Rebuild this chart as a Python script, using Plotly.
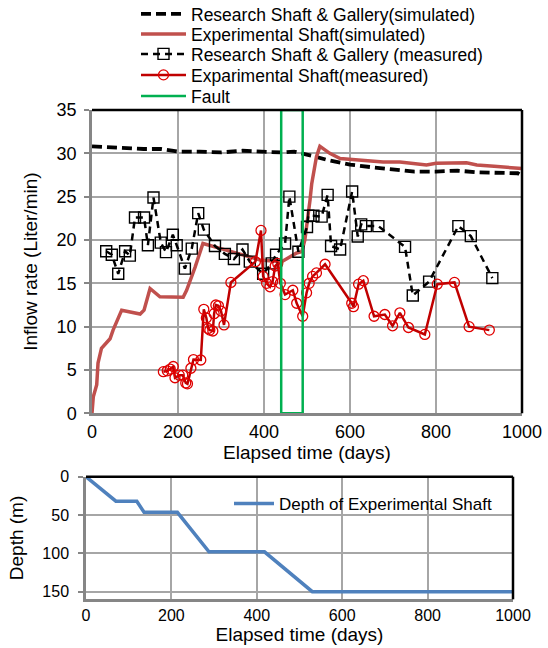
import plotly.graph_objects as go

# ---------------- data ----------------
# Research Shaft & Gallery (simulated)
rs_sim_days = [0, 40, 80, 120, 160, 180, 200, 250, 300, 350, 400, 440, 470, 490, 520, 550,
               600, 650, 700, 750, 800, 850, 900, 950, 990, 1000]
rs_sim_rate = [30.8, 30.7, 30.5, 30.5, 30.5, 30.3, 30.2, 30.2, 30.1, 30.3, 30.2, 30.1, 30.2,
               30.0, 29.6, 29.2, 28.7, 28.4, 28.1, 27.9, 27.9, 28.0, 27.8, 27.8, 27.7, 27.4]

# Experimental Shaft (simulated)
es_sim_days = [0, 3, 11, 14, 22, 42, 49, 69, 112, 121, 135, 158, 212, 220, 240, 258, 300,
               350, 391, 441, 476, 488, 495, 507, 511, 522, 530, 553, 577, 677, 716, 778,
               800, 871, 895, 935, 1000]
es_sim_rate = [0, 1.9, 3.3, 5.8, 7.5, 8.6, 9.6, 11.9, 11.45, 11.9, 14.4, 13.45, 13.4, 14.2,
               16.9, 19.6, 19.0, 18.3, 17.7, 17.5, 18.5, 18.65, 20.0, 24.6, 26.5, 29.6, 30.8,
               30.0, 29.4, 29.0, 29.0, 28.65, 28.85, 28.9, 28.65, 28.5, 28.25]

# Research Shaft & Gallery (measured)
rs_meas_days = [33, 46, 61, 77, 88, 100, 121, 130, 143, 160, 172, 188, 197, 216, 232, 247,
                260, 286, 309, 330, 350, 367, 398, 418, 428, 449, 459, 480, 500, 503, 515,
                534, 548, 556, 577, 605, 618, 626, 637, 666, 728, 746, 784, 852, 881, 931]
rs_meas_rate = [18.7, 18.3, 16.1, 18.7, 18.2, 22.6, 22.6, 19.4, 24.9, 19.7, 18.6, 20.6, 19.4,
                16.7, 19.0, 23.1, 21.2, 19.3, 18.4, 17.8, 18.9, 17.5, 16.1, 17.3, 18.3, 19.6,
                25.0, 18.65, 21.5, 22.8, 22.8, 22.7, 25.2, 19.3, 18.9, 25.6, 20.4, 21.8, 21.6,
                21.6, 19.2, 13.6, 15.2, 21.6, 20.45, 15.6]

# Experimental Shaft (measured)
es_meas_days = [166, 175, 182, 189, 193, 203, 211, 218, 222, 230, 236, 253, 260, 266, 270,
                274, 281, 284, 288, 294, 300, 307, 323, 380, 393, 398, 406, 414, 420, 426,
                432, 438, 449, 467, 476, 490, 499, 505, 513, 522, 542, 604, 608, 620, 631,
                656, 681, 699, 716, 736, 774, 803, 843, 877, 924]
es_meas_rate = [4.8, 4.9, 5.1, 5.4, 4.1, 4.4, 4.4, 3.5, 3.4, 5.2, 6.2, 6.15, 12.0, 11.0, 9.8,
                9.6, 9.5, 11.5, 12.5, 12.4, 11.8, 10.2, 15.1, 17.5, 21.1, 15.8, 15.0, 14.6,
                15.2, 17.0, 17.3, 15.0, 13.7, 14.2, 12.7, 11.2, 13.9, 15.0, 15.8, 16.2, 17.2,
                12.7, 12.3, 14.9, 15.3, 11.2, 11.4, 10.1, 11.6, 9.9, 9.1, 14.9, 15.1, 10.0, 9.6]

# Fault zone outline
fault_days = [440, 440, 490, 490, 440]
fault_rate = [0, 35, 35, 0, 0]

# Depth of Experimental Shaft
depth_days = [0, 70, 119, 136, 214, 288, 418, 530, 1000]
depth_m = [0, 32, 32, 46.5, 46.5, 98, 98, 150, 150]

x_ticks = [0, 200, 400, 600, 800, 1000]
rate_ticks = [0, 5, 10, 15, 20, 25, 30, 35]
depth_ticks = [0, 50, 100, 150]

# ---------------- figure ----------------
W, H = 548, 648
FONT = "Liberation Sans, Arial, sans-serif"
GRID = "#A6A6A6"
AXIS = "#868686"

fig = go.Figure()
fig.add_trace(go.Scatter(
    x=rs_sim_days, y=rs_sim_rate, mode="lines",
    name="Research Shaft & Gallery(simulated)", legend="legend",
    line=dict(color="black", width=3.8, dash="10px,5px")))
fig.add_trace(go.Scatter(
    x=es_sim_days, y=es_sim_rate, mode="lines",
    name="Experimental Shaft(simulated)", legend="legend3",
    line=dict(color="#C0504D", width=3.5)))
fig.add_trace(go.Scatter(
    x=rs_meas_days, y=rs_meas_rate, mode="lines+markers",
    name="Research Shaft & Gallery (measured)", legend="legend4",
    line=dict(color="black", width=2.5, dash="7px,5px"),
    marker=dict(symbol="square-open", size=11, color="black", line=dict(width=1.4))))
fig.add_trace(go.Scatter(
    x=es_meas_days, y=es_meas_rate, mode="lines+markers",
    name="Exparimental Shaft(measured)", legend="legend5",
    line=dict(color="#C00000", width=2.5),
    marker=dict(symbol="circle-open", size=10, color="#E00000", line=dict(width=1.3))))
fig.add_trace(go.Scatter(
    x=fault_days, y=fault_rate, mode="lines", name="Fault", legend="legend6",
    line=dict(color="#00B050", width=2.5)))
fig.add_trace(go.Scatter(
    x=depth_days, y=depth_m, mode="lines", name="Depth of Experimental Shaft",
    line=dict(color="#4F81BD", width=3.5), xaxis="x2", yaxis="y2", legend="legend2"))

axis_common = dict(showline=True, linecolor=AXIS, linewidth=2.5, showgrid=True,
                   gridcolor=GRID, gridwidth=1.5, zeroline=False, automargin=False)


def top_legend(row_y):
    return dict(x=136 / W, y=1 - row_y / H, xanchor="left", yanchor="middle",
                bgcolor="rgba(0,0,0,0)", font=dict(size=17.5), itemwidth=45)


fig.update_layout(
    width=W, height=H, margin=dict(l=0, r=0, t=0, b=0, autoexpand=False),
    paper_bgcolor="white", plot_bgcolor="white",
    font=dict(family=FONT, color="black", size=18),
    showlegend=True,
    xaxis=dict(domain=[92 / W, 522 / W], anchor="y", range=[0, 1000], tickvals=x_ticks,
               ticks="", tickfont=dict(size=18),
               title=dict(text="Elapsed time (days)", font=dict(size=19), standoff=2),
               **axis_common),
    yaxis=dict(domain=[1 - 413.3 / H, 1 - 110 / H], anchor="x", range=[0, 35],
               tickvals=rate_ticks, ticks="outside", ticklen=5, tickwidth=1.5, tickcolor=AXIS,
               tickfont=dict(size=18), ticklabelstandoff=4,
               title=dict(text="Inflow rate (Liter/min)", font=dict(size=19), standoff=14),
               **axis_common),
    xaxis2=dict(domain=[86 / W, 513 / W], anchor="y2", range=[0, 1000], tickvals=x_ticks,
                ticks="", tickfont=dict(size=16),
                title=dict(text="Elapsed time (days)", font=dict(size=19), standoff=2),
                **axis_common),
    yaxis2=dict(domain=[1 - 599.3 / H, 1 - 476.7 / H], anchor="x2", range=[160, 0],
                tickvals=depth_ticks, ticks="outside", ticklen=5, tickwidth=1.5,
                tickcolor=AXIS, tickfont=dict(size=16), ticklabelstandoff=6,
                title=dict(text="Depth (m)", font=dict(size=19), standoff=14),
                **axis_common),
    legend=top_legend(14),
    legend3=top_legend(34),
    legend4=top_legend(54),
    legend5=top_legend(75),
    legend6=top_legend(96),
    legend2=dict(x=229 / W, y=1 - 504 / H, xanchor="left", yanchor="middle",
                 bgcolor="rgba(0,0,0,0)", font=dict(size=17), itemwidth=40),
    shapes=[
        dict(type="line", xref="x domain", yref="y domain", x0=0, x1=1, y0=1, y1=1,
             line=dict(color="black", width=2.5)),
        dict(type="line", xref="x domain", yref="y domain", x0=1, x1=1, y0=0, y1=1,
             line=dict(color="black", width=2.5)),
        dict(type="line", xref="x2 domain", yref="y2 domain", x0=0, x1=1, y0=1, y1=1,
             line=dict(color="black", width=2.5)),
        dict(type="line", xref="x2 domain", yref="y2 domain", x0=1, x1=1, y0=0, y1=1,
             line=dict(color="black", width=2.5)),
    ],
)

fig.write_html("out.html")
